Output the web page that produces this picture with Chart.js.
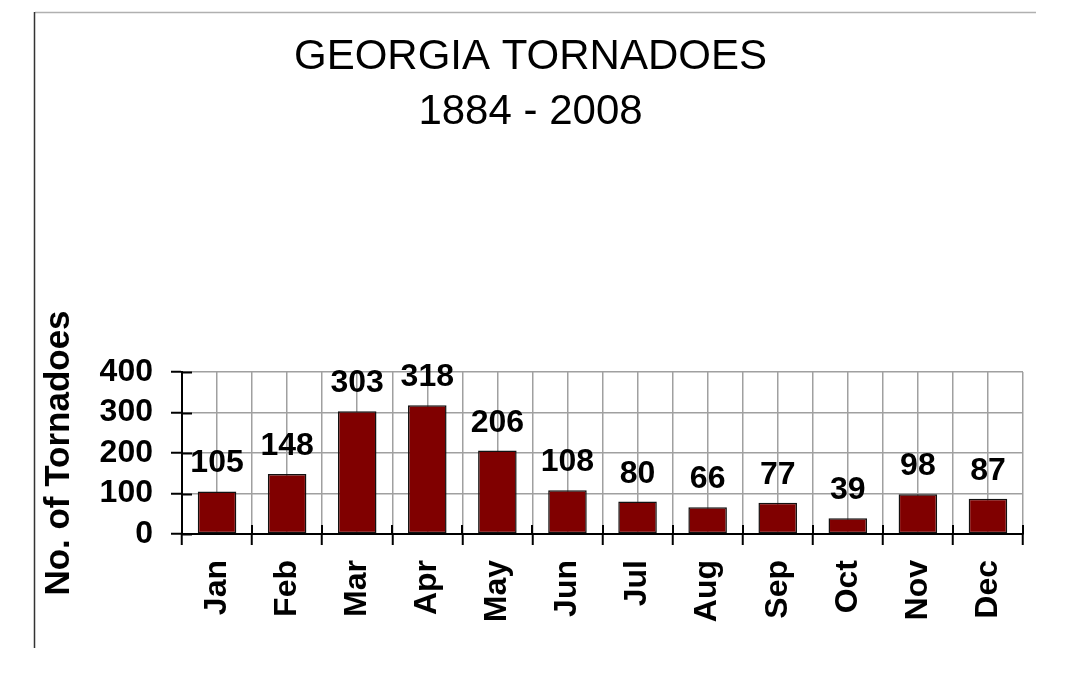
<!DOCTYPE html>
<html>
<head>
<meta charset="utf-8">
<script src="https://cdn.jsdelivr.net/npm/chart.js@4/dist/chart.umd.min.js"></script>
<style>
  html, body { margin: 0; padding: 0; background: #fff; }
  #wrap { width: 1078px; height: 674px; position: relative; }
</style>
</head>
<body>
<div id="wrap"><canvas id="chart"></canvas></div>
<script>
// data
const months = ['Jan', 'Feb', 'Mar', 'Apr', 'May', 'Jun', 'Jul', 'Aug', 'Sep', 'Oct', 'Nov', 'Dec'];
const tornadoes = [105, 148, 303, 318, 206, 108, 80, 66, 77, 39, 98, 87];
const titleLines = ['GEORGIA TORNADOES', '1884 - 2008'];
const yTicks = [0, 100, 200, 300, 400];

const FONT = '"Liberation Sans", Arial, Helvetica, sans-serif';
const GRID = '#a0a0a0';

// page frame: grey line on top, black line down the left
const framePlugin = {
    id: 'frame',
    beforeDraw(chart) {
        const c = chart.ctx;
        c.save();
        c.fillStyle = '#fff';
        c.fillRect(0, 0, chart.width, chart.height);
        c.lineWidth = 1.5;
        c.strokeStyle = '#b0b0b0';
        c.beginPath(); c.moveTo(35, 12.5); c.lineTo(1036, 12.5); c.stroke();
        c.strokeStyle = '#333';
        c.beginPath(); c.moveTo(34.5, 12); c.lineTo(34.5, 648); c.stroke();
        c.restore();
    }
};

// black tick stubs crossing into the plot area, and value labels over bars
const overlayPlugin = {
    id: 'overlay',
    afterDatasetsDraw(chart) {
        const c = chart.ctx;
        const y = chart.scales.y, x = chart.scales.x;
        const area = chart.chartArea;
        c.save();
        c.strokeStyle = '#000';
        c.lineWidth = 2;
        yTicks.forEach(v => {
            const py = Math.round(y.getPixelForValue(v)) + 0.5;
            c.beginPath(); c.moveTo(area.left, py); c.lineTo(area.left + 10, py); c.stroke();
        });
        for (let i = 0; i <= months.length; i++) {
            const px = Math.round(x.getPixelForValue(i - 0.5));
            c.beginPath(); c.moveTo(px, area.bottom - 9); c.lineTo(px, area.bottom); c.stroke();
        }
        const meta = chart.getDatasetMeta(0);
        c.fillStyle = '#000';
        c.font = 'bold 32px ' + FONT;
        c.textAlign = 'center';
        c.textBaseline = 'alphabetic';
        meta.data.forEach((bar, i) => {
            c.fillText(String(tornadoes[i]), bar.x, bar.y - 19);
        });
        c.restore();
    }
};

new Chart(document.getElementById('chart'), {
    type: 'bar',
    data: {
        labels: months,
        datasets: [{
            data: tornadoes,
            backgroundColor: '#800000',
            borderColor: '#111',
            borderWidth: 1.5,
            borderSkipped: false,
            categoryPercentage: 1,
            barPercentage: 0.55
        }]
    },
    options: {
        responsive: true,
        maintainAspectRatio: false,
        animation: false,
        layout: { padding: { left: 38, right: 55, top: 0, bottom: 0 } },
        plugins: {
            legend: { display: false },
            tooltip: { enabled: false },
            title: {
                display: true,
                text: titleLines,
                color: '#000',
                font: { family: FONT, size: 42, weight: 'normal', lineHeight: 1.31 },
                padding: { top: 30, bottom: 232 }
            }
        },
        scales: {
            x: {
                type: 'category',
                grid: { display: true, offset: false, color: GRID, lineWidth: 1.5, drawTicks: false },
                border: { display: true, color: '#000', width: 2 },
                ticks: {
                    color: '#000',
                    font: { family: FONT, size: 32, weight: 'bold' },
                    minRotation: 90, maxRotation: 90,
                    padding: 26, autoSkip: false
                },
                afterFit(scale) { scale.height = 140; }
            },
            x2: {
                type: 'category',
                position: 'bottom',
                weight: -1,
                labels: months,
                grid: {
                    display: true, offset: true, lineWidth: 1.5, tickLength: 11,
                    color: ctx => ctx.index === 0 ? 'rgba(0,0,0,0)' : GRID,
                    tickColor: '#000', tickWidth: 2
                },
                border: { display: false },
                ticks: { display: false },
                afterFit(scale) { scale.height = 0; }
            },
            y: {
                min: 0, max: 400,
                afterBuildTicks(scale) { scale.ticks = yTicks.map(v => ({ value: v })); },
                grid: { color: GRID, lineWidth: 1.5, tickLength: 11, tickColor: '#000', tickWidth: 2 },
                border: { display: true, color: '#000', width: 2 },
                ticks: {
                    color: '#000',
                    font: { family: FONT, size: 32, weight: 'bold' },
                    padding: 18,
                    autoSkip: false
                },
                title: {
                    display: true,
                    text: 'No. of Tornadoes',
                    color: '#000',
                    font: { family: FONT, size: 35, weight: 'bold', lineHeight: 1.2 },
                    padding: 0
                },
                afterFit(scale) { scale.width = 144; }
            }
        }
    },
    plugins: [framePlugin, overlayPlugin]
});
</script>
</body>
</html>
